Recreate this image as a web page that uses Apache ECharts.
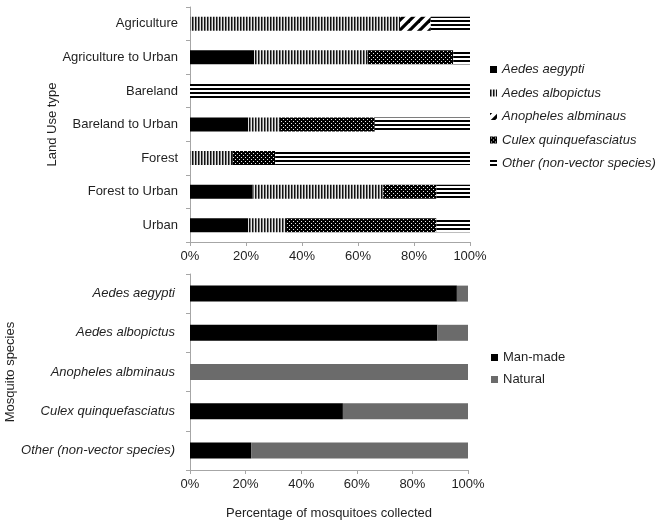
<!DOCTYPE html>
<html>
<head>
<meta charset="utf-8">
<script src="https://cdn.jsdelivr.net/npm/echarts@6/dist/echarts.min.js"></script>
<style>
html,body{margin:0;padding:0;background:#fff;}
#chart{width:657px;height:521px;}
</style>
</head>
<body>
<div id="chart"></div>
<script>
// ---- Data ----
const landUse = ['Agriculture', 'Agriculture to Urban', 'Bareland', 'Bareland to Urban', 'Forest', 'Forest to Urban', 'Urban'];
const speciesNames = ['Aedes aegypti', 'Aedes albopictus', 'Anopheles albminaus', 'Culex quinquefasciatus', 'Other (non-vector species)'];
const aegypti     = [0, 22.9, 0, 20.8, 0, 22.3, 20.8];
const albopictus  = [75, 40.6, 0, 11.3, 15.1, 46.7, 13.5];
const anopheles   = [11, 0, 0, 0, 0, 0, 0];
const culex       = [0, 30.5, 0, 33.9, 15.3, 19, 53.7];
const otherSp     = [14, 6, 100, 34, 69.6, 12, 12];

const mosquitoSpecies = ['Aedes aegypti', 'Aedes albopictus', 'Anopheles albminaus', 'Culex quinquefasciatus', 'Other (non-vector species)'];
const habitatNames = ['Man-made', 'Natural'];
const manMade = [96, 89, 0, 55, 22];
const natural = [4, 11, 100, 45, 78];

const pctTicks = [0, 20, 40, 60, 80, 100];

// ---- Patterns ----
function makePattern(w, h, draw) {
  const c = document.createElement('canvas');
  c.width = w; c.height = h;
  const ctx = c.getContext('2d');
  draw(ctx, w, h);
  return { image: c, repeat: 'repeat' };
}
const patVertical = makePattern(3, 4, (ctx, w, h) => {
  ctx.fillStyle = '#e6e6e6'; ctx.fillRect(0, 0, w, h);
  ctx.fillStyle = '#111111'; ctx.fillRect(0, 0, 1, h);
  ctx.fillStyle = '#7a7a7a'; ctx.fillRect(1, 0, 1, h);
});
const patDiagonal = makePattern(10, 10, (ctx, w, h) => {
  ctx.fillStyle = '#ffffff'; ctx.fillRect(0, 0, w, h);
  ctx.strokeStyle = '#000'; ctx.lineWidth = 3.2;
  for (let k = -2; k <= 2; k++) {
    ctx.beginPath();
    ctx.moveTo(k * 10 - 2, h + 2);
    ctx.lineTo(k * 10 + w + 2, -2);
    ctx.stroke();
  }
});
const patDots = makePattern(4, 4, (ctx, w, h) => {
  ctx.fillStyle = '#000'; ctx.fillRect(0, 0, w, h);
  ctx.fillStyle = '#e8e8e8';
  ctx.fillRect(1, 1, 1, 1);
  ctx.fillRect(3, 3, 1, 1);
});
const patHorizontal = makePattern(4, 4, (ctx, w, h) => {
  ctx.fillStyle = '#ffffff'; ctx.fillRect(0, 0, w, h);
  ctx.fillStyle = '#000'; ctx.fillRect(0, 0, w, 2);
});

const topColors = ['#000000', patVertical, patDiagonal, patDots, patHorizontal];
const topData = [aegypti, albopictus, anopheles, culex, otherSp];

const FONT = 'Liberation Sans, Arial, sans-serif';
const TXT = '#1f1f1f';
const AX = '#a6a6a6';

const chart = echarts.init(document.getElementById('chart'), null, { renderer: 'canvas' });

const xAxisCommon = {
  type: 'value', min: 0, max: 100, interval: 20,
  axisLine: { show: true, lineStyle: { color: AX } },
  axisTick: { show: true, length: 4, lineStyle: { color: AX } },
  splitLine: { show: false },
  axisLabel: { formatter: v => v + '%', color: TXT, fontSize: 13, fontFamily: FONT, margin: 8 }
};

const series = [];
speciesNames.forEach((n, i) => {
  series.push({
    name: n, type: 'bar', stack: 'top', xAxisIndex: 0, yAxisIndex: 0,
    barWidth: 14, data: topData[i],
    itemStyle: { color: topColors[i] },
    emphasis: { disabled: true }
  });
});
series.push({
  name: habitatNames[0], type: 'bar', stack: 'bottom', xAxisIndex: 1, yAxisIndex: 1,
  barWidth: 16, data: manMade, itemStyle: { color: '#000000' }, emphasis: { disabled: true }
});
series.push({
  name: habitatNames[1], type: 'bar', stack: 'bottom', xAxisIndex: 1, yAxisIndex: 1,
  barWidth: 16, data: natural, itemStyle: { color: '#6b6b6b' }, emphasis: { disabled: true }
});

chart.setOption({
  animation: false,
  backgroundColor: '#ffffff',
  grid: [
    { left: 190, top: 7, width: 280, height: 235 },
    { left: 190, top: 274, width: 278, height: 197 }
  ],
  xAxis: [
    Object.assign({ gridIndex: 0 }, xAxisCommon),
    Object.assign({ gridIndex: 1, name: 'Percentage of mosquitoes collected', nameLocation: 'middle', nameGap: 37,
      nameTextStyle: { color: TXT, fontSize: 13, fontFamily: FONT } }, xAxisCommon)
  ],
  yAxis: [
    {
      gridIndex: 0, type: 'category', data: landUse, inverse: true,
      name: 'Land Use type', nameLocation: 'middle', nameGap: 129, nameRotate: 90,
      nameTextStyle: { color: TXT, fontSize: 13, fontFamily: FONT },
      axisLine: { show: true, lineStyle: { color: AX } },
      axisTick: { show: true, length: 4, lineStyle: { color: AX } },
      axisLabel: { color: TXT, fontSize: 13, fontFamily: FONT, margin: 12 }
    },
    {
      gridIndex: 1, type: 'category', data: mosquitoSpecies, inverse: true,
      name: 'Mosquito species', nameLocation: 'middle', nameGap: 170, nameRotate: 90,
      nameTextStyle: { color: TXT, fontSize: 13, fontFamily: FONT },
      axisLine: { show: true, lineStyle: { color: AX } },
      axisTick: { show: true, length: 4, lineStyle: { color: AX } },
      axisLabel: { color: TXT, fontSize: 13, fontFamily: FONT, fontStyle: 'italic', margin: 15 }
    }
  ],
  legend: [
    {
      data: speciesNames, orient: 'vertical', left: 485, top: 58, itemGap: 10.5,
      itemWidth: 7, itemHeight: 7, icon: 'rect', selectedMode: false,
      textStyle: { color: TXT, fontSize: 13, fontFamily: FONT, fontStyle: 'italic' }
    },
    {
      data: habitatNames, orient: 'vertical', left: 486, top: 346, itemGap: 9,
      itemWidth: 7, itemHeight: 7, icon: 'rect', selectedMode: false,
      textStyle: { color: TXT, fontSize: 13, fontFamily: FONT }
    }
  ],
  series: series
});
</script>
</body>
</html>
